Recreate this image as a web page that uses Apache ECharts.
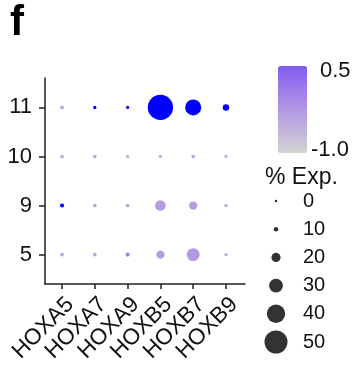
<!DOCTYPE html>
<html><head><meta charset="utf-8">
<script src="https://cdn.jsdelivr.net/npm/echarts@6/dist/echarts.min.js"></script>
<style>html,body{margin:0;padding:0;background:#fff}#c{width:360px;height:366px}</style>
</head><body><div id="c"></div>
<script>
const genes = ['HOXA5','HOXA7','HOXA9','HOXB5','HOXB7','HOXB9'];
const clusters = ['5','9','10','11'];
// percent expressed per cluster (columns follow genes)
const pctExp5  = [8, 8, 9, 18, 28, 7];
const pctExp9  = [9, 8, 8, 23, 18, 7];
const pctExp10 = [8, 8, 8, 7, 8, 7];
const pctExp11 = [8, 7, 7, 55, 35, 14];
// scaled average expression per cluster
const avgExp5  = [-0.1, -0.1, 0.6, 0.0, 0.1, -0.1];
const avgExp9  = [2.5, -0.1, -0.1, 0.05, 0.0, -0.1];
const avgExp10 = [-0.25, -0.25, -0.6, -0.25, -0.25, -0.25];
const avgExp11 = [-0.2, 2.5, 2.5, 2.5, 2.5, 2.5];
const sizeBreaks = [0, 10, 20, 30, 40, 50];
const colorbarMin = -1.0, colorbarMax = 0.5;
const colorbarLabels = ['0.5', '-1.0'];

const pctRows = [pctExp5, pctExp9, pctExp10, pctExp11];
const avgRows = [avgExp5, avgExp9, avgExp10, avgExp11];
const dotData = [];
clusters.forEach((c, ci) => genes.forEach((g, gi) => {
  dotData.push([gi, ci, pctRows[ci][gi], avgRows[ci][gi]]);
}));
const sizeOf = p => Math.max(2.5, 0.46 * p);
const FONT = '"Liberation Sans", Arial, sans-serif';

const chart = echarts.init(document.getElementById('c'), null, {renderer: 'canvas'});
chart.setOption({
  animation: false,
  backgroundColor: '#fff',
  grid: [
    {left: 45, top: 78, width: 200, height: 206},
    {left: 270, top: 201, width: 12, height: 141}
  ],
  xAxis: [
    {type: 'value', gridIndex: 0, min: -0.52, max: 5.58,
     axisLine: {onZero: false, lineStyle: {color: '#222', width: 1.5}},
     axisTick: {customValues: [0,1,2,3,4,5], length: 5, lineStyle: {color: '#222', width: 1.5}},
     axisLabel: {customValues: [0,1,2,3,4,5], formatter: v => genes[Math.round(v)],
                 rotate: 45, fontSize: 22.5, color: '#111', fontFamily: FONT, margin: 9,
                 verticalAlign: 'top'},
     splitLine: {show: false}},
    {type: 'value', gridIndex: 1, min: -1, max: 1, show: false}
  ],
  yAxis: [
    {type: 'value', gridIndex: 0, min: -0.6, max: 3.6,
     axisLine: {show: true, onZero: false, lineStyle: {color: '#222', width: 1.5}},
     axisTick: {show: true, customValues: [0,1,2,3], length: 6, lineStyle: {color: '#222', width: 1.5}},
     axisLabel: {customValues: [0,1,2,3], formatter: v => clusters[Math.round(v)],
                 fontSize: 22, color: '#111', fontFamily: FONT, margin: 13},
     splitLine: {show: false}},
    {type: 'value', gridIndex: 1, min: 0, max: 50, inverse: true, position: 'right',
     axisLine: {show: false}, axisTick: {show: false}, splitLine: {show: false},
     axisLabel: {customValues: sizeBreaks, fontSize: 20, color: '#111', fontFamily: FONT, margin: 21}}
  ],
  visualMap: [
    {type: 'continuous', show: false, seriesIndex: 0, dimension: 3, min: -1, max: 2.5,
     inRange: {color: ['#d3d3d3', 'rgb(187,165,224)', 'rgb(157,119,236)', 'rgb(112,72,246)', '#0000ff']}},
    {type: 'continuous', show: true, seriesIndex: 2, min: colorbarMin, max: colorbarMax,
     orient: 'vertical', left: 278, top: 66, itemWidth: 29, itemHeight: 87, padding: 0,
     calculable: false, hoverLink: false, text: null,
     inRange: {color: ['#d3d3d3', 'rgb(195,181,219)', 'rgb(178,151,228)', 'rgb(158,121,235)', 'rgb(126,92,242)']}}
  ],
  series: [
    {type: 'scatter', xAxisIndex: 0, yAxisIndex: 0, data: dotData,
     encode: {x: 0, y: 1}, symbolSize: v => sizeOf(v[2]), itemStyle: {opacity: 1}},
    {type: 'scatter', xAxisIndex: 1, yAxisIndex: 1,
     data: sizeBreaks.map(s => [0, s, s]), encode: {x: 0, y: 1},
     symbolSize: v => sizeOf(v[2]), itemStyle: {color: '#000'}},
    {type: 'scatter', xAxisIndex: 1, yAxisIndex: 1, data: []}
  ],
  graphic: [
    {type: 'text', left: 10, top: 2, style: {text: 'f', font: 'bold 42px ' + FONT, fill: '#000'}},
    {type: 'text', x: 265, y: 178, style: {text: '% Exp.', font: '23px ' + FONT, fill: '#111', textVerticalAlign: 'middle'}},
    {type: 'text', x: 320, y: 71, style: {text: colorbarLabels[0], font: '22px ' + FONT, fill: '#111', textVerticalAlign: 'middle'}},
    {type: 'text', x: 311, y: 150, style: {text: colorbarLabels[1], font: '22px ' + FONT, fill: '#111', textVerticalAlign: 'middle'}},
    {type: 'group', children: [65.6, 94.3, 123, 151.7].flatMap(y => [
      {type: 'line', shape: {x1: 278, y1: y, x2: 283, y2: y}, style: {stroke: '#fff', lineWidth: 1.2}},
      {type: 'line', shape: {x1: 302, y1: y, x2: 307, y2: y}, style: {stroke: '#fff', lineWidth: 1.2}}
    ])}
  ]
});
</script></body></html>
